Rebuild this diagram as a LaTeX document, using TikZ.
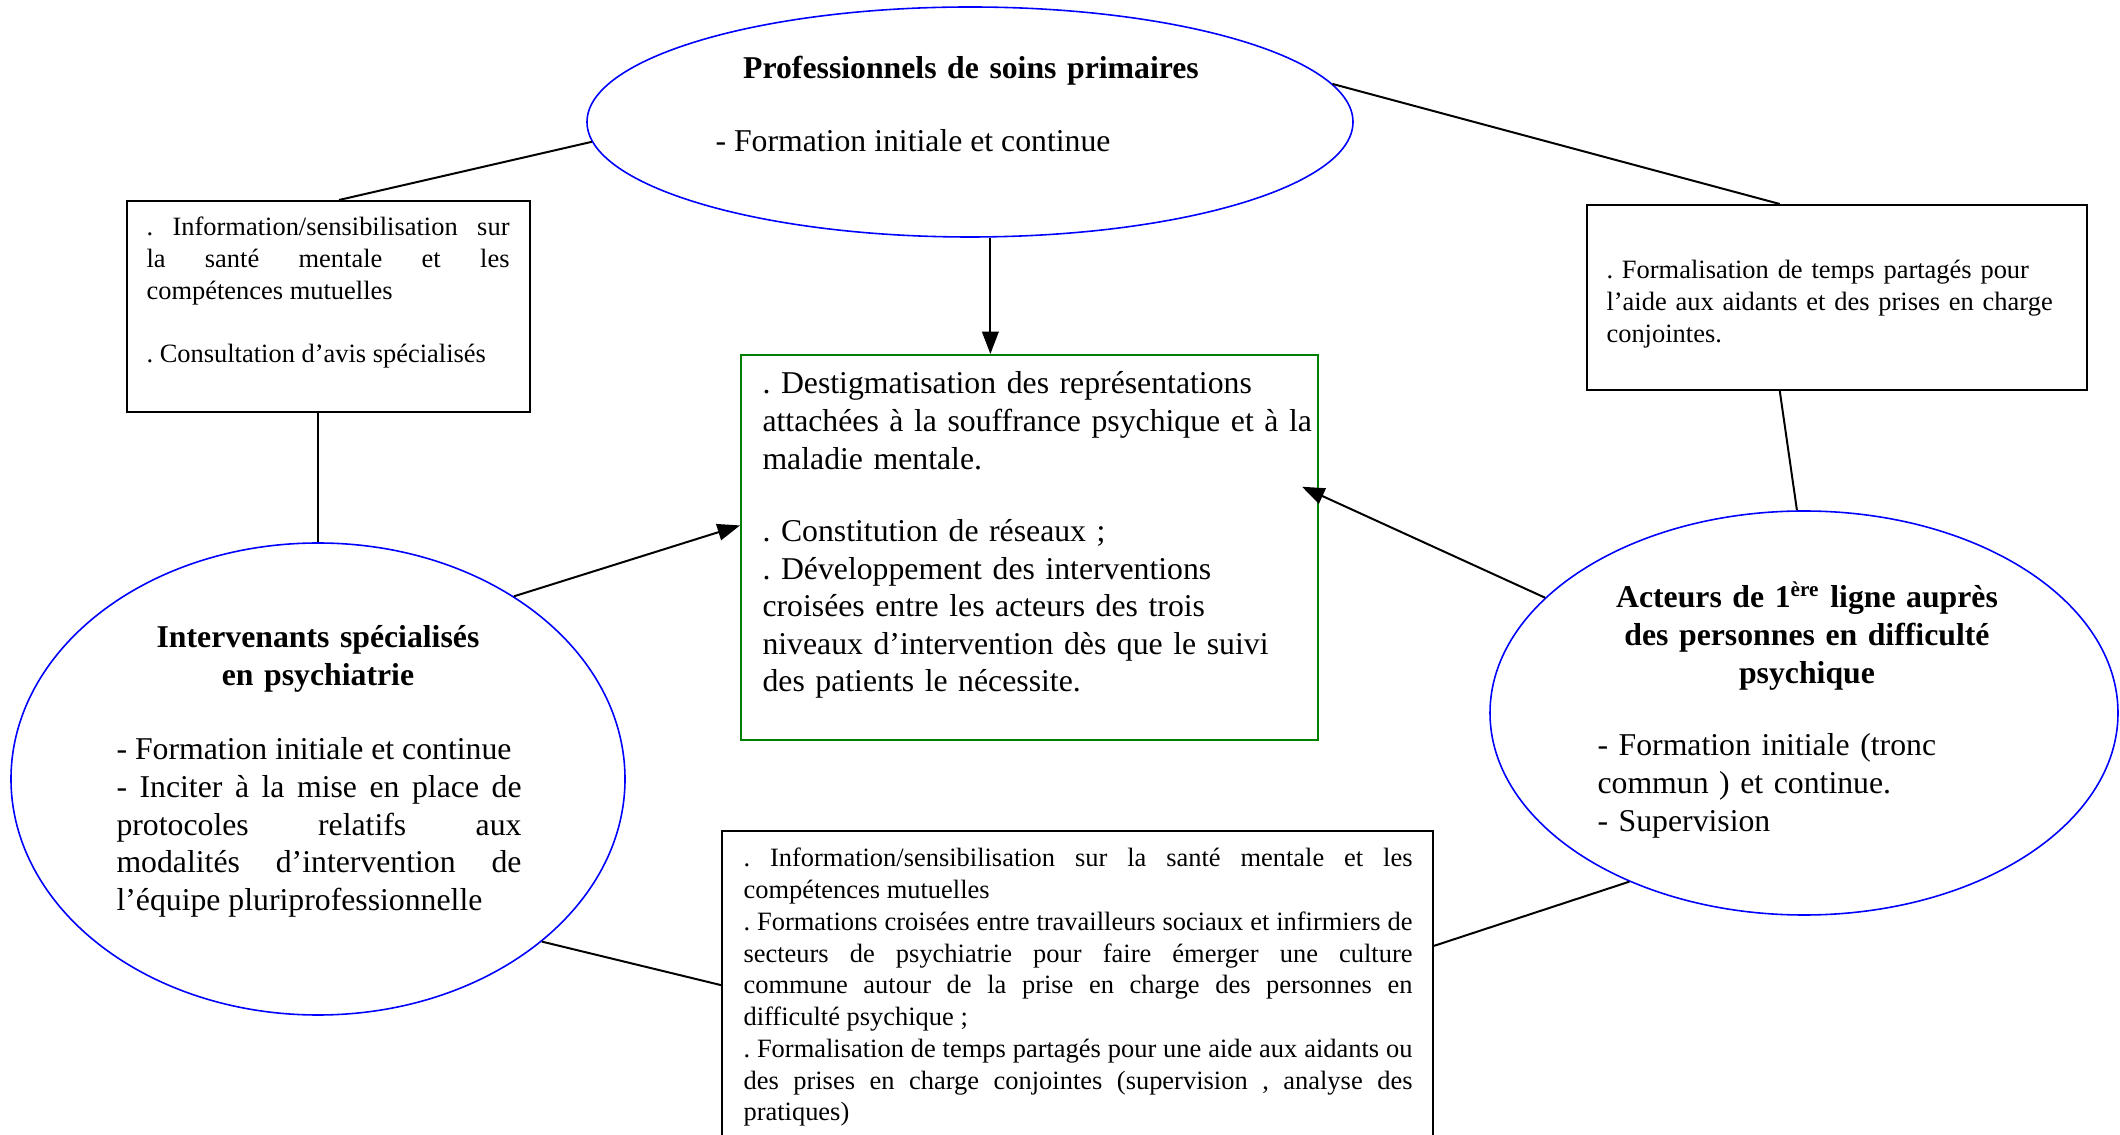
\documentclass[tikz,border=0pt]{standalone}
\usepackage{fontspec}
\setmainfont{Liberation Serif}
\usetikzlibrary{shapes.geometric,arrows.meta,calc}
\newlength\pxu
\setlength\pxu{0.378pt}
\definecolor{ellblue}{RGB}{0,0,255}
\definecolor{boxgreen}{RGB}{0,128,0}
\begin{document}
\frenchspacing
\begin{tikzpicture}[x=0.378pt,y=-0.378pt,
  ell/.style={ellipse, draw=ellblue, line width=0.6pt, inner sep=0pt},
  box/.style={rectangle, draw=black, line width=0.75pt, inner sep=0pt, anchor=north west},
  big/.style={inner sep=0pt, anchor=base west, font=\fontsize{12}{14.2}\selectfont},
  bigb/.style={inner sep=0pt, anchor=base, align=center, font=\fontsize{12}{14.2}\selectfont\bfseries},
  small/.style={inner sep=0pt, anchor=base west, font=\fontsize{10}{12}\selectfont},
  conn/.style={line width=0.75pt},
  arr/.style={conn, -{Triangle[length=8.5pt,width=6.3pt]}}]
\useasboundingbox (0,0) rectangle (2120,1135);

% shapes
\node[ell, minimum width=766\pxu, minimum height=230\pxu] (top) at (970,122) {};
\node[ell, minimum width=614\pxu, minimum height=472\pxu] (lell) at (318,779) {};
\node[ell, minimum width=628\pxu, minimum height=404\pxu] (rell) at (1804,713) {};
\node[box, minimum width=403\pxu, minimum height=211\pxu] (lbox) at (126,200) {};
\node[box, draw=boxgreen, minimum width=577\pxu, minimum height=385\pxu] (green) at (740,354) {};
\node[box, minimum width=500\pxu, minimum height=185\pxu] (rbox) at (1586,204) {};
\node[box, minimum width=711\pxu, minimum height=312\pxu] (bbox) at (721,830) {};

% texts
\node[bigb, text width=600\pxu] (toptitle) at (971,79) {Professionnels de soins primaires};
\node[big] (topbody) at (715,152) {- Formation initiale et continue};

\node[small, text width=363\pxu, align=justify] (lboxt) at (146,236)
 {. Information/sensibilisation sur\linebreak la santé mentale et les\linebreak compétences mutuelles\par\vspace*{12pt}. Consultation d’avis spécialisés};

\node[big, text width=560\pxu, align=left] (greent) at (762,394)
 {. Destigmatisation des représentations\\attachées à la souffrance psychique et à la\\maladie mentale.\\[13.2pt]. Constitution de réseaux ;\\. Développement des interventions\\croisées entre les acteurs des trois\\niveaux d’intervention dès que le suivi\\des patients le nécessite.};

\node[small, text width=470\pxu, align=left] (rboxt) at (1606,279)
 {. Formalisation de temps partagés pour\\l’aide aux aidants et des prises en charge\\conjointes.};

\node[small, text width=669\pxu, align=justify] (bboxt) at (743,867)
 {. Information/sensibilisation sur la santé mentale et les\linebreak compétences mutuelles\par . Formations croisées entre travailleurs sociaux et infirmiers de\linebreak secteurs de psychiatrie pour faire émerger une culture\linebreak commune autour de la prise en charge des personnes en\linebreak difficulté psychique ;\par . Formalisation de temps partagés pour une aide aux aidants ou\linebreak des prises en charge conjointes (supervision , analyse des\linebreak pratiques)};

\node[bigb, text width=500\pxu] (lelltitle) at (318,648) {Intervenants spécialisés\\en psychiatrie};
\node[big, text width=405\pxu, align=justify] (lellbody) at (116,760)
 {- Formation initiale et continue\par - Inciter à la mise en place de\linebreak protocoles relatifs aux\linebreak modalités d’intervention de\linebreak l’équipe pluriprofessionnelle};

\node[bigb, text width=560\pxu] (relltitle) at (1807,608) {Acteurs de 1\textsuperscript{ère} ligne auprès\\des personnes en difficulté\\psychique};
\node[big, text width=420\pxu, align=left] (rellbody) at (1597,756)
 {- Formation initiale (tronc\\commun ) et continue.\\- Supervision};

% connectors
\draw[conn] (top.183) -- ($(lbox.north west)!0.526!(lbox.north east)$);
\draw[conn] (top.6) -- ($(rbox.north west)!0.386!(rbox.north east)$);
\draw[arr] (top.280) -- (top.280 |- green.north);
\draw[conn] (lell.north) -- (lell.north |- lbox.south);
\draw[conn] ($(rbox.south west)!0.386!(rbox.south east)$) -- (rell.92);
\draw[arr] (lell.43) -- ($(green.north west)!0.443!(green.south west)$);
\draw[arr] (rell.156) -- ($(green.north east)!0.343!(green.south east)+(-17,0)$);
\draw[conn] (lell.324) -- ($(bbox.north west)!0.494!(bbox.south west)$);
\draw[conn] (rell.224) -- ($(bbox.north east)!0.369!(bbox.south east)$);
\end{tikzpicture}
\end{document}
